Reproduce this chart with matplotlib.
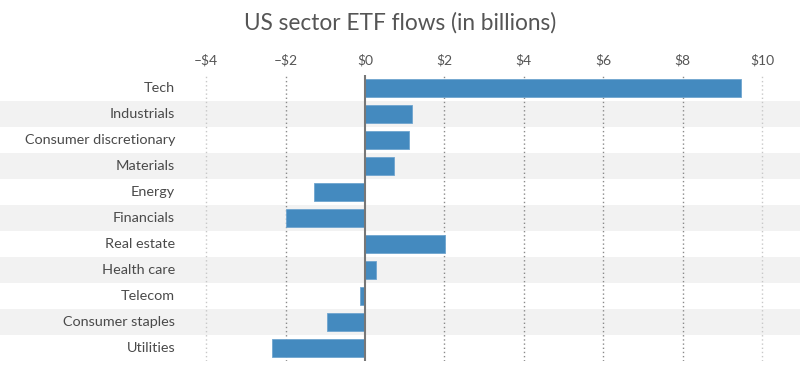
import matplotlib.pyplot as plt

sectors = ['Tech', 'Industrials', 'Consumer discretionary', 'Materials', 'Energy',
           'Financials', 'Real estate', 'Health care', 'Telecom', 'Consumer staples',
           'Utilities']
flows = [9.47, 1.18, 1.11, 0.73, -1.28, -1.98, 2.02, 0.27, -0.13, -0.95, -2.33]
tick_vals = [-4, -2, 0, 2, 4, 6, 8, 10]
tick_labels = ['–$4', '–$2', '$0', '$2', '$4', '$6', '$8', '$10']

plt.rcParams['font.family'] = ['Lato', 'DejaVu Sans']

W, H = 800, 381
fig = plt.figure(figsize=(W / 100, H / 100), dpi=100)
# axes spans the whole width so the row bands run edge to edge
ax = fig.add_axes([0, (H - 361) / H, 1, 286 / H])
px_per_unit = 39.7
x0 = 365
ax.set_xlim(-x0 / px_per_unit, (W - x0) / px_per_unit)
ax.set_ylim(len(sectors) - 0.5, -0.5)

for i in range(len(sectors)):
    if i % 2 == 1:
        ax.axhspan(i - 0.5, i + 0.5, color='#f2f2f2', lw=0, zorder=0)

for v in tick_vals:
    if v == 0:
        continue
    c = '#c8c8c8' if v in (-4, 10) else '#8a8a8a'
    ax.axvline(v, color=c, lw=1, ls=(0, (1, 2)), zorder=1)

ax.barh(range(len(sectors)), flows, height=0.7, color='#448abf',
        edgecolor='#6fa5cf', lw=0.6, zorder=2)
ax.axvline(0, color='#777777', lw=1.5, zorder=3)

for i, s in enumerate(sectors):
    ax.text(175 / W, i, s, transform=ax.get_yaxis_transform(), ha='right',
            va='center', fontsize=10.4, color='#4a4a4a')

ax.xaxis.tick_top()
ax.set_xticks(tick_vals)
ax.set_xticklabels(tick_labels)
ax.tick_params(axis='x', length=0, pad=6, labelsize=10, labelcolor='#555555')
ax.set_yticks([])
for sp in ax.spines.values():
    sp.set_visible(False)
ax.patch.set_alpha(0)

fig.text(0.5, 1 - 23 / H, 'US sector ETF flows (in billions)', ha='center',
         va='center', fontsize=16.3, color='#555555')

fig.savefig('out.png', dpi=100)
